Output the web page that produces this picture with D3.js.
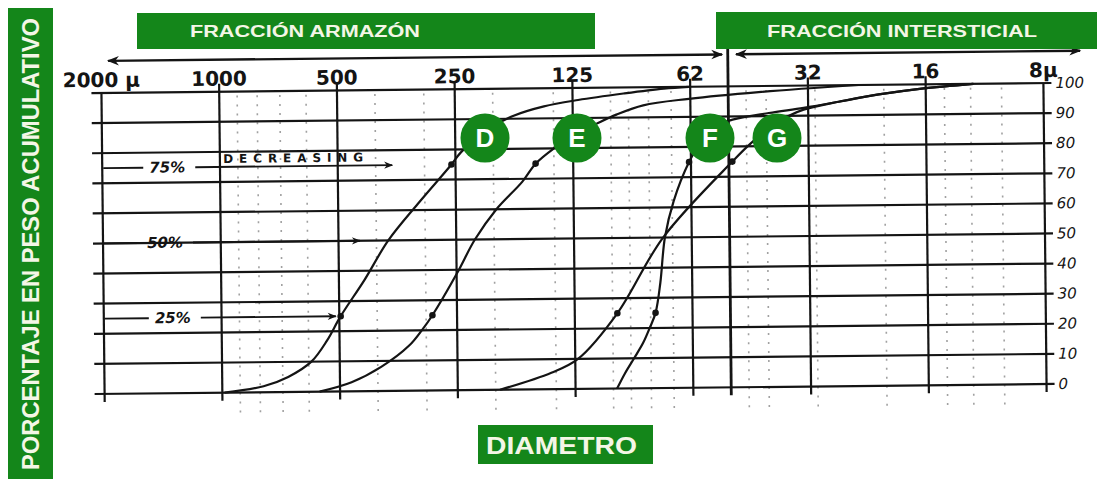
<!DOCTYPE html>
<html>
<head>
<meta charset="utf-8">
<script src="https://cdn.jsdelivr.net/npm/d3@7/dist/d3.min.js"></script>
<style>
body { margin: 0; background: #fff; }
svg { display: block; }
</style>
</head>
<body>
<div id="chart"></div>
<script>
// diameter ticks (microns), labels as written on the sheet
var sizeTicks = [2000, 1000, 500, 250, 125, 62.5, 31.25, 15.625, 7.8125];
var sizeLabels = ['2000 μ', '1000', '500', '250', '125', '62', '32', '16', '8μ'];
var minorSizes = [900, 800, 700, 600, 400, 300, 200, 140, 100, 90, 80, 70, 45, 40, 30, 20, 14, 12, 10];
var boundarySize = 50;

var percentTicks = [0, 10, 20, 30, 40, 50, 60, 70, 80, 90, 100];

// cumulative curves: [diameter in microns, cumulative %]
var curveD = [[987, 0], [784, 2], [678, 5], [591, 10], [538, 17], [496, 25], [430, 37], [373, 50], [313, 62], [256, 75],
    [242, 79], [217, 84], [197, 88], [177, 91], [148, 94], [121, 96], [92.6, 98], [73, 99.5], [63, 100]];
var curveE = [[564, 0], [467, 3], [392, 8], [332, 15], [308, 20], [289, 25], [249, 39], [224, 50], [197, 60], [169, 69],
    [156, 75], [140, 80], [122, 85], [109, 88], [96.7, 91], [82.5, 94], [63, 96], [41.8, 98], [23.2, 100]];
var curveF = [[97.9, 0], [93.4, 5], [88.4, 10], [83.8, 15], [80.5, 20], [77.7, 25], [75.4, 35], [73.2, 50], [69.4, 62],
    [63.2, 75], [58.5, 82], [53.6, 87], [48.5, 89], [39.4, 91], [32.1, 92.6], [26.1, 94.5], [20.6, 96.8], [16, 98.6], [11.8, 100]];
var curveG = [[195, 0], [144, 5.5], [123, 10], [97.3, 25], [74, 50], [49, 75], [43.9, 81], [38.3, 87], [35, 90], [32.1, 92],
    [26.1, 94.5], [20.6, 96.8], [16, 98.6], [11.8, 100]];
var curveNames = ['D', 'E', 'F', 'G'];
var curves = [curveD, curveE, curveF, curveG];
var markerPercents = [25, 75];

var guidePercents = [75, 50, 25];
var guideLabels = ['75%', '50%', '25%'];

var green = '#14861a';
var ink = '#141414';

var svg = d3.select('#chart').append('svg')
    .attr('width', 1097)
    .attr('height', 479);

var defs = svg.append('defs');
defs.append('marker')
    .attr('id', 'head')
    .attr('viewBox', '0 0 10 10')
    .attr('refX', 9)
    .attr('refY', 5)
    .attr('markerWidth', 10)
    .attr('markerHeight', 9)
    .attr('markerUnits', 'userSpaceOnUse')
    .attr('orient', 'auto-start-reverse')
    .append('path')
    .attr('d', 'M0,1 L10,5 L0,9 L3,5 Z')
    .attr('fill', ink);

defs.append('marker')
    .attr('id', 'bighead')
    .attr('viewBox', '0 0 10 10')
    .attr('refX', 9)
    .attr('refY', 5)
    .attr('markerWidth', 14)
    .attr('markerHeight', 12)
    .attr('markerUnits', 'userSpaceOnUse')
    .attr('orient', 'auto-start-reverse')
    .append('path')
    .attr('d', 'M0,1 L10,5 L0,9 L3,5 Z')
    .attr('fill', ink);

var x = d3.scaleLog().domain([2000, 7.8125]).range([103, 1045]);
var y = d3.scaleLinear().domain([0, 100]).range([389, 88]);

// the scanned sheet is slightly tilted
var sheet = svg.append('g').attr('transform', 'rotate(-0.6,573,238)');

// faint dotted minor lines
sheet.append('g').selectAll('line').data(minorSizes).enter()
    .append('line')
    .attr('x1', function(d) { return x(d); })
    .attr('x2', function(d) { return x(d); })
    .attr('y1', y(100) + 4)
    .attr('y2', y(0) + 20)
    .attr('stroke', '#555')
    .attr('stroke-width', 1.6)
    .attr('stroke-dasharray', '2,7')
    .attr('opacity', 0.55);

// horizontal grid
sheet.append('g').selectAll('line').data(percentTicks).enter()
    .append('line')
    .attr('x1', 93)
    .attr('x2', 1053)
    .attr('y1', function(d) { return y(d); })
    .attr('y2', function(d) { return y(d); })
    .attr('stroke', ink)
    .attr('stroke-width', 2.2);

// vertical grid
sheet.append('g').selectAll('line').data(sizeTicks).enter()
    .append('line')
    .attr('x1', function(d) { return x(d); })
    .attr('x2', function(d) { return x(d); })
    .attr('y1', function(d, i) { return i === 0 || i === sizeTicks.length - 1 ? y(100) : y(100) - 8; })
    .attr('y2', y(0) + 8)
    .attr('stroke', ink)
    .attr('stroke-width', 2.2);

// boundary between framework and interstitial fractions
sheet.append('line')
    .attr('x1', x(boundarySize))
    .attr('x2', x(boundarySize))
    .attr('y1', 46)
    .attr('y2', y(0) + 8)
    .attr('stroke', ink)
    .attr('stroke-width', 2.8);

// diameter labels
sheet.append('g').selectAll('text').data(sizeTicks).enter()
    .append('text')
    .attr('x', function(d) { return x(d); })
    .attr('y', y(100) - 6)
    .attr('text-anchor', 'middle')
    .attr('font-family', 'DejaVu Sans')
    .attr('font-weight', 'bold')
    .attr('font-size', 20)
    .attr('fill', ink)
    .text(function(d, i) { return sizeLabels[i]; });

// percent labels on the right
sheet.append('g').selectAll('text').data(percentTicks).enter()
    .append('text')
    .attr('x', 1057)
    .attr('y', function(d) { return y(d) + 5; })
    .attr('font-family', 'DejaVu Sans')
    .attr('font-style', 'italic')
    .attr('font-size', 15)
    .attr('fill', ink)
    .text(function(d) { return d; });

// fraction arrows
sheet.append('line')
    .attr('x1', 110).attr('y1', 56).attr('x2', 724).attr('y2', 56)
    .attr('stroke', ink).attr('stroke-width', 2.4)
    .attr('marker-start', 'url(#bighead)')
    .attr('marker-end', 'url(#bighead)');
sheet.append('line')
    .attr('x1', 738).attr('y1', 56).attr('x2', 1082).attr('y2', 56)
    .attr('stroke', ink).attr('stroke-width', 2.4)
    .attr('marker-start', 'url(#bighead)')
    .attr('marker-end', 'url(#bighead)');

// cumulative curves
var line = d3.line()
    .x(function(d) { return x(d[0]); })
    .y(function(d) { return y(d[1]); })
    .curve(d3.curveCatmullRom.alpha(0.5));

sheet.append('g').selectAll('path').data(curves).enter()
    .append('path')
    .attr('d', line)
    .attr('fill', 'none')
    .attr('stroke', ink)
    .attr('stroke-width', 2.2);

curves.forEach(function(c) {
    sheet.append('g').selectAll('circle')
        .data(c.filter(function(p) { return markerPercents.indexOf(p[1]) !== -1; }))
        .enter()
        .append('circle')
        .attr('cx', function(p) { return x(p[0]); })
        .attr('cy', function(p) { return y(p[1]); })
        .attr('r', 3.3)
        .attr('fill', ink);
});

// percentile guide arrows on the left
var guideText = [168, 165, 172];
var guideEnd = [393, 360, 335];
guidePercents.forEach(function(p, i) {
    var gy = y(p);
    sheet.append('line')
        .attr('x1', 104).attr('x2', guideText[i] - 24)
        .attr('y1', gy).attr('y2', gy)
        .attr('stroke', ink).attr('stroke-width', 1.9);
    sheet.append('line')
        .attr('x1', guideText[i] + 28).attr('x2', guideEnd[i])
        .attr('y1', gy).attr('y2', gy)
        .attr('stroke', ink).attr('stroke-width', 1.9)
        .attr('marker-end', 'url(#head)');
    sheet.append('text')
        .attr('x', guideText[i])
        .attr('y', gy + 5)
        .attr('text-anchor', 'middle')
        .attr('font-family', 'DejaVu Sans')
        .attr('font-style', 'italic')
        .attr('font-weight', 'bold')
        .attr('font-size', 15)
        .attr('fill', ink)
        .text(guideLabels[i]);
});

sheet.append('text')
    .attr('x', 224)
    .attr('y', y(75) - 4)
    .attr('font-family', 'DejaVu Sans')
    .attr('font-weight', 'bold')
    .attr('font-size', 12)
    .attr('textLength', 140)
    .attr('lengthAdjust', 'spacing')
    .attr('fill', ink)
    .text('DECREASING');

// curve badges
var badgeX = [485, 577, 710, 777];
var badges = svg.append('g').selectAll('g').data(curveNames).enter()
    .append('g')
    .attr('transform', function(d, i) { return 'translate(' + badgeX[i] + ',138)'; });
badges.append('circle')
    .attr('r', 24.5)
    .attr('fill', green);
badges.append('text')
    .attr('y', 9)
    .attr('text-anchor', 'middle')
    .attr('font-family', 'Liberation Sans')
    .attr('font-weight', 'bold')
    .attr('font-size', 26)
    .attr('fill', '#fff')
    .text(function(d) { return d; });

// green title boxes
function box(x0, y0, w, h, label, tx, ty, size, len) {
    svg.append('rect')
        .attr('x', x0).attr('y', y0)
        .attr('width', w).attr('height', h)
        .attr('fill', green);
    svg.append('text')
        .attr('x', tx).attr('y', ty)
        .attr('font-family', 'Liberation Sans')
        .attr('font-weight', 'bold')
        .attr('font-size', size)
        .attr('textLength', len)
        .attr('lengthAdjust', 'spacingAndGlyphs')
        .attr('fill', '#f4f6e6')
        .text(label);
}

box(137, 13, 458, 36, 'FRACCIÓN ARMAZÓN', 190, 37, 16.5, 230);
box(716, 12, 381, 37, 'FRACCIÓN INTERSTICIAL', 767, 37, 16.5, 270);
box(478, 425, 175, 39, 'DIAMETRO', 486, 454, 23, 151);

svg.append('rect')
    .attr('x', 8).attr('y', 8)
    .attr('width', 45).attr('height', 471)
    .attr('fill', green);
svg.append('text')
    .attr('transform', 'translate(39,470) rotate(-90)')
    .attr('font-family', 'Liberation Sans')
    .attr('font-weight', 'bold')
    .attr('font-size', 23)
    .attr('textLength', 452)
    .attr('lengthAdjust', 'spacingAndGlyphs')
    .attr('fill', '#f4f6e6')
    .text('PORCENTAJE EN PESO ACUMULATIVO');
</script>
</body>
</html>
